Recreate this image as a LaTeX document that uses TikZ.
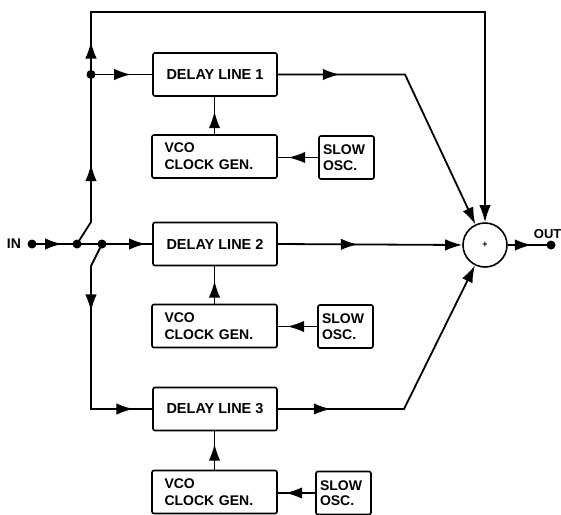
\documentclass[tikz,border=0pt]{standalone}
\usepackage{fontspec}
\setmainfont{Liberation Sans}
\usetikzlibrary{arrows.meta,decorations.markings}
\tikzset{
  tipA/.tip={Latex[length=17pt,width=11.5pt]},
  am/.style={postaction={decorate,decoration={markings,mark=at position #1 with {\arrow{tipA}}}}},
  txt/.style={font=\bfseries\fontsize{14}{17}\selectfont},
  dlbox/.style={draw,rounded corners=2pt,line width=1.6pt,minimum width=124pt,minimum height=43pt,inner sep=0pt,font=\bfseries\fontsize{14.5}{17}\selectfont},
  vcobox/.style={draw,rounded corners=2pt,line width=1.6pt,minimum width=125pt,minimum height=43pt,text width=100pt,inner xsep=12.5pt,inner ysep=0pt,align=left,font=\bfseries\fontsize{14}{17}\selectfont},
  oscbox/.style={draw,rounded corners=2pt,line width=1.6pt,minimum width=55pt,minimum height=43pt,text width=47pt,inner xsep=4pt,inner ysep=0pt,align=left,font=\bfseries\fontsize{14}{15.5}\selectfont},
}
\begin{document}
\begin{tikzpicture}[x=1pt,y=-1pt,line width=1.8pt]
\useasboundingbox (0,0) rectangle (561,514);
% blocks
\node[dlbox] (dl1) at (215,74.5) {DELAY LINE 1};
\node[dlbox] (dl2) at (215,244) {DELAY LINE 2};
\node[dlbox] (dl3) at (215,409) {DELAY LINE 3};
\node[vcobox] (vco1) at (214.5,156.5) {VCO\\CLOCK GEN.};
\node[vcobox] (vco2) at (214.5,326) {VCO\\CLOCK GEN.};
\node[vcobox] (vco3) at (214.5,492) {VCO\\CLOCK GEN.};
\node[oscbox] (osc1) at (346.5,157.5) {SLOW\\OSC.};
\node[oscbox] (osc2) at (345.5,326.5) {SLOW\\OSC.};
\node[oscbox] (osc3) at (343.5,493) {SLOW\\OSC.};
\node[circle,draw,line width=1.6pt,minimum size=44pt,inner sep=0pt,font=\bfseries\fontsize{9}{9}\selectfont] (sum) at (485,245) {+};
% labels
\node[txt,anchor=west,inner sep=0pt] (inlab) at (6,244) {IN};
\node[txt,anchor=west,inner sep=0pt,font=\bfseries\fontsize{13}{15}\selectfont] (outlab) at (533,234) {OUT};
% points
\coordinate (indot) at (32,244);
\coordinate (j1) at (77,244);
\coordinate (j2) at (102,244);
\coordinate (a1) at (91,222);
\coordinate (j3) at (91,74.5);
\coordinate (a2) at (91,12);
\coordinate (a3) at (485,12);
\coordinate (b1) at (91,266);
\coordinate (b2) at (91,409);
\coordinate (c1) at (405,74.5);
\coordinate (c3) at (404,409);
\coordinate (outdot) at (551,245);
\foreach \p in {indot,j1,j2,j3,outdot} \fill (\p) circle (4.5pt);
% connectors
\draw[am=30pt] (indot) -- (j1);
\draw (j1) -- (j2);
\draw[am=44pt] (j2) -- (dl2.west);
\draw[am=84pt] (j1) -- (a1) -- (j3);
\draw[am=33pt,-{tipA}] (j3) -- (a2) -- (a3) -- (sum.north);
\draw[am=40pt] (j3) -- (dl1.west);
\draw[am=70pt,am=210pt] (j2) -- (b1) -- (b2) -- (dl3.west);
\draw[am=62pt,-{tipA}] (dl1.east) -- (c1) -- (sum);
\draw[am=80pt,-{tipA}] (dl2.east) -- (sum.west);
\draw[am=53pt,-{tipA}] (dl3.east) -- (c3) -- (sum);
\draw[am=23pt] (vco1.north) -- (vco1.north |- dl1.south);
\draw[am=23pt] (vco2.north) -- (vco2.north |- dl2.south);
\draw[am=26pt] (vco3.north) -- (vco3.north |- dl3.south);
\draw[am=30pt] (osc1.west) -- (osc1.west -| vco1.east);
\draw[am=30pt] (osc2.west) -- (osc2.west -| vco2.east);
\draw[am=30pt] (osc3.west) -- (osc3.west -| vco3.east);
\draw[am=24pt] (sum.east) -- (outdot);
\end{tikzpicture}
\end{document}
